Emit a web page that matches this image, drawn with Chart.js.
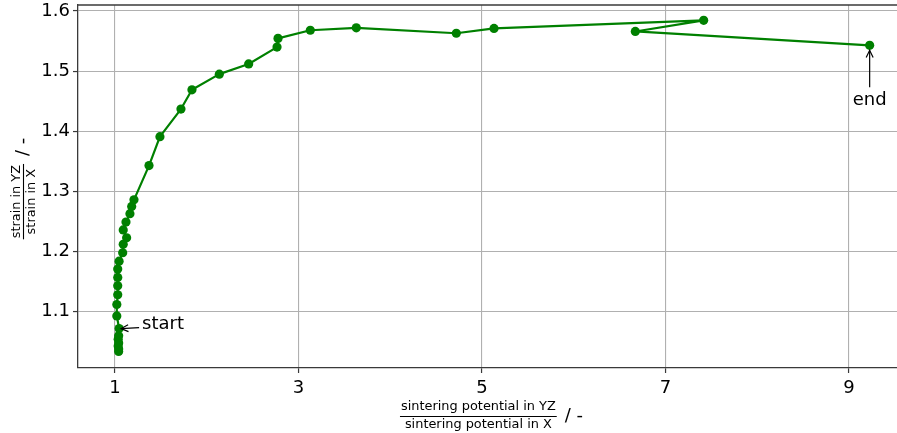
<!DOCTYPE html>
<html><head><meta charset="utf-8">
<script src="https://cdn.jsdelivr.net/npm/chart.js@4"></script>
<style>html,body{margin:0;padding:0;background:#fff;}#wrap{width:897px;height:433px;}</style>
</head><body><div id="wrap"><canvas id="c" width="897" height="433"></canvas></div>
<script>
// ---- data ----
const xValues = [1.04, 1.04, 1.035, 1.04, 1.035, 1.04, 1.045, 1.02, 1.02, 1.03, 1.03, 1.03, 1.03, 1.045,
  1.084, 1.09, 1.127, 1.09, 1.12, 1.163, 1.182, 1.207, 1.371, 1.49, 1.719, 1.839, 2.137, 2.457,
  2.766, 2.777, 3.129, 3.63, 4.72, 5.131, 7.416, 6.671, 9.225];
const yValues = [1.034, 1.038, 1.043, 1.048, 1.054, 1.060, 1.072, 1.093, 1.112, 1.128, 1.143, 1.157, 1.171, 1.184,
  1.198, 1.212, 1.223, 1.236, 1.249, 1.263, 1.275, 1.286, 1.343, 1.391, 1.437, 1.469, 1.495, 1.512,
  1.540, 1.5545, 1.568, 1.572, 1.563, 1.571, 1.5845, 1.566, 1.543];
const xTicks = [1, 3, 5, 7, 9];
const yTicks = [1.1, 1.2, 1.3, 1.4, 1.5, 1.6];
const xLabelNum = 'sintering potential in YZ';
const xLabelDen = 'sintering potential in X';
const yLabelNum = 'strain in YZ';
const yLabelDen = 'strain in X';
const unitLabel = '/ -';
const annTexts = ['start', 'end'];
const annX = [1.045, 9.225];
const annY = [1.072, 1.543];

// ---- style ----
const FONT = 'DejaVu Sans';
const SPINE = '#3a3a3a';
const GRID = '#b0b0b0';
const GREEN = '#008000';

Chart.defaults.font.family = FONT;
Chart.defaults.font.size = 18;
Chart.defaults.color = '#000';

const points = xValues.map((v, i) => ({x: v, y: yValues[i]}));

function arrow(ctx, x0, y0, x1, y1) {
  ctx.beginPath(); ctx.moveTo(x0, y0); ctx.lineTo(x1, y1); ctx.stroke();
  const ang = Math.atan2(y1 - y0, x1 - x0);
  const L = 8, W = 0.45;
  ctx.beginPath();
  ctx.moveTo(x1 - L * Math.cos(ang - W), y1 - L * Math.sin(ang - W));
  ctx.lineTo(x1, y1);
  ctx.lineTo(x1 - L * Math.cos(ang + W), y1 - L * Math.sin(ang + W));
  ctx.stroke();
}

const overlay = {
  id: 'overlay',
  afterDraw(chart) {
    const {ctx, chartArea: a, scales} = chart;
    const sx = scales.x, sy = scales.y;
    ctx.save();
    // top spine
    ctx.strokeStyle = SPINE; ctx.lineWidth = 1.3;
    ctx.beginPath(); ctx.moveTo(a.left, a.top); ctx.lineTo(a.right, a.top); ctx.stroke();

    // annotations
    ctx.fillStyle = '#000'; ctx.strokeStyle = '#000'; ctx.lineWidth = 1.2;
    ctx.font = '18px "' + FONT + '"';
    // start
    let px = sx.getPixelForValue(annX[0]), py = sy.getPixelForValue(annY[0]);
    ctx.textAlign = 'left'; ctx.textBaseline = 'middle';
    ctx.fillText(annTexts[0], px + 23, py - 4.5);
    arrow(ctx, px + 20, py - 1, px + 2, py);
    // end
    px = sx.getPixelForValue(annX[1]); py = sy.getPixelForValue(annY[1]);
    ctx.textAlign = 'center'; ctx.textBaseline = 'middle';
    ctx.fillText(annTexts[1], px, py + 55);
    arrow(ctx, px, py + 42, px, py + 5);

    // x axis title (fraction + unit)
    const fs = 12.9;
    ctx.font = fs + 'px "' + FONT + '"';
    const nW = ctx.measureText(xLabelNum).width, dW = ctx.measureText(xLabelDen).width;
    const barLen = Math.max(nW, dW) + 2;
    ctx.font = '18px "' + FONT + '"';
    const uW = ctx.measureText(unitLabel).width;
    const gap = 8;
    const total = barLen + gap + uW;
    const cx = (a.left + a.right) / 2 + 4;
    const bx0 = cx - total / 2;
    const barY = a.bottom + 48.5;
    ctx.lineWidth = 1.1;
    ctx.beginPath(); ctx.moveTo(bx0, barY); ctx.lineTo(bx0 + barLen, barY); ctx.stroke();
    ctx.font = fs + 'px "' + FONT + '"';
    ctx.textAlign = 'center'; ctx.textBaseline = 'alphabetic';
    ctx.fillText(xLabelNum, bx0 + barLen / 2, barY - 6.5);
    ctx.fillText(xLabelDen, bx0 + barLen / 2, barY + 11.5);
    ctx.font = '18px "' + FONT + '"';
    ctx.textAlign = 'left'; ctx.textBaseline = 'middle';
    ctx.fillText(unitLabel, bx0 + barLen + gap, barY);

    // y axis title (rotated)
    ctx.font = fs + 'px "' + FONT + '"';
    const ynW = ctx.measureText(yLabelNum).width, ydW = ctx.measureText(yLabelDen).width;
    const ybar = Math.max(ynW, ydW) + 2;
    ctx.font = '18px "' + FONT + '"';
    const yuW = ctx.measureText(unitLabel).width;
    const ytotal = ybar + gap + yuW;
    const cy = (a.top + a.bottom) / 2;
    ctx.translate(23.5, cy);
    ctx.rotate(-Math.PI / 2);
    const s0 = -ytotal / 2 - 2;
    ctx.beginPath(); ctx.moveTo(s0, 0); ctx.lineTo(s0 + ybar, 0); ctx.stroke();
    ctx.font = fs + 'px "' + FONT + '"';
    ctx.textAlign = 'center'; ctx.textBaseline = 'alphabetic';
    ctx.fillText(yLabelNum, s0 + ybar / 2, -4);
    ctx.fillText(yLabelDen, s0 + ybar / 2, 11.5);
    ctx.font = '18px "' + FONT + '"';
    ctx.textAlign = 'left'; ctx.textBaseline = 'middle';
    ctx.fillText(unitLabel, s0 + ybar + gap, 0);
    ctx.restore();
  }
};

new Chart(document.getElementById('c'), {
  type: 'scatter',
  data: {
    datasets: [{
      data: points,
      showLine: true,
      borderColor: GREEN,
      borderWidth: 2.2,
      borderJoinStyle: 'round',
      borderCapStyle: 'round',
      backgroundColor: GREEN,
      pointBackgroundColor: GREEN,
      pointBorderColor: GREEN,
      pointBorderWidth: 0,
      pointRadius: 4.6,
      tension: 0
    }]
  },
  options: {
    responsive: false,
    animation: false,
    events: [],
    layout: {autoPadding: false, padding: {top: 5, right: 0, left: 0, bottom: 0}},
    plugins: {legend: {display: false}, tooltip: {enabled: false}},
    scales: {
      x: {
        type: 'linear', min: 0.597, max: 9.523,
        afterBuildTicks: s => { s.ticks = xTicks.map(v => ({value: v})); },
        afterFit: s => { s.height = 65; s.paddingLeft = 0; s.paddingRight = 0; },
        grid: {color: GRID, lineWidth: 1.1, drawTicks: true, tickLength: 5, tickColor: SPINE, tickWidth: 1.2},
        border: {color: SPINE, width: 1.3},
        ticks: {padding: 5, maxRotation: 0, font: {size: 18}, color: '#000', callback: v => String(v)}
      },
      y: {
        type: 'linear', min: 1.0064, max: 1.6100,
        afterBuildTicks: s => { s.ticks = yTicks.map(v => ({value: v})); },
        afterFit: s => { s.width = 78; s.paddingTop = 0; s.paddingBottom = 0; },
        grid: {color: GRID, lineWidth: 1.1, drawTicks: true, tickLength: 5, tickColor: SPINE, tickWidth: 1.2},
        border: {color: SPINE, width: 1.3},
        ticks: {padding: 3, font: {size: 18}, color: '#000', callback: v => Number(v).toFixed(1)}
      }
    }
  },
  plugins: [overlay]
});
</script>
</body></html>
